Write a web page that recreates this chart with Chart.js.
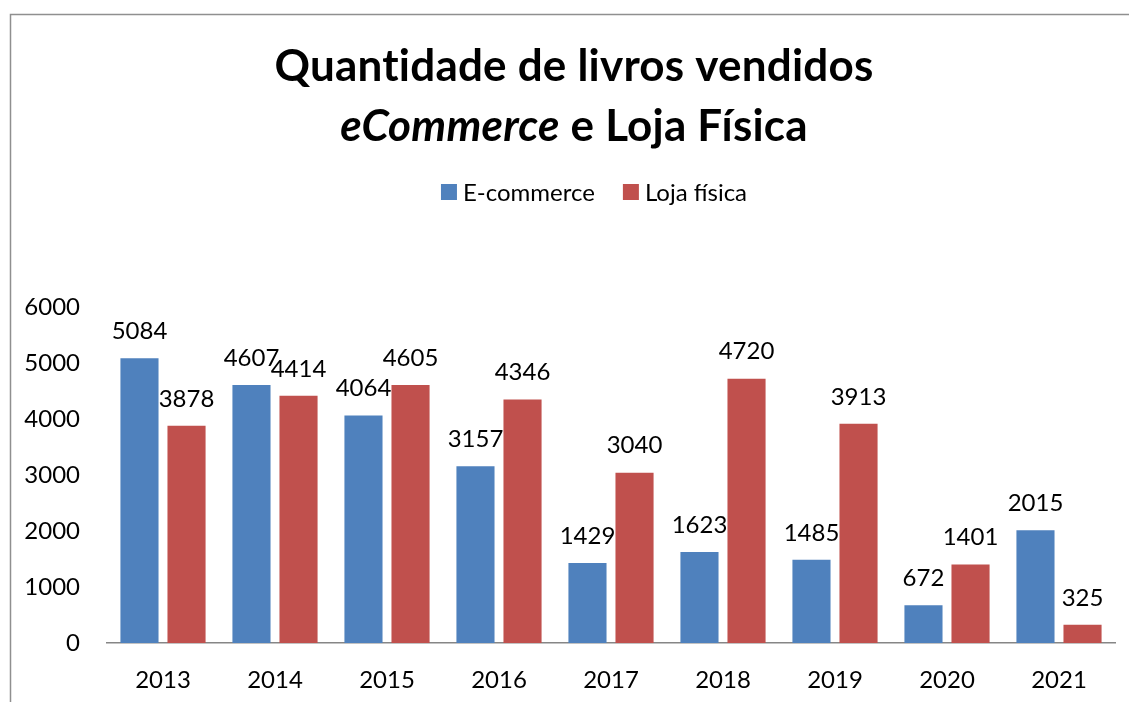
<!DOCTYPE html>
<html>
<head>
<meta charset="utf-8">
<script src="https://cdn.jsdelivr.net/npm/chart.js@4/dist/chart.umd.min.js"></script>
<style>
  html, body { margin: 0; padding: 0; background: #ffffff; }
  #wrap { width: 1129px; height: 702px; position: relative; }
</style>
</head>
<body>
<div id="wrap"><canvas id="c" width="1129" height="702"></canvas></div>
<script>
const categories = ['2013', '2014', '2015', '2016', '2017', '2018', '2019', '2020', '2021'];
const ecommerceValues = [5084, 4607, 4064, 3157, 1429, 1623, 1485, 672, 2015];
const lojaFisicaValues = [3878, 4414, 4605, 4346, 3040, 4720, 3913, 1401, 325];
const seriesNames = ['E-commerce', 'Loja física'];
const yTicks = [0, 1000, 2000, 3000, 4000, 5000, 6000];
const titleLine1 = 'Quantidade de livros vendidos';
const titleLine2Italic = 'eCommerce';
const titleLine2Rest = ' e Loja Física';

const FONT = 'Lato, "Open Sans", sans-serif';

const framePlugin = {
  id: 'frame',
  beforeDraw(chart) {
    const ctx = chart.ctx;
    ctx.save();
    ctx.fillStyle = '#ffffff';
    ctx.fillRect(0, 0, chart.width, chart.height);
    ctx.strokeStyle = '#8f8f8f';
    ctx.lineWidth = 1.5;
    ctx.beginPath();
    ctx.moveTo(10.5, chart.height);
    ctx.lineTo(10.5, 14.5);
    ctx.lineTo(chart.width, 14.5);
    ctx.stroke();
    ctx.restore();
  }
};

const titlePlugin = {
  id: 'mixedTitle',
  afterDraw(chart) {
    const ctx = chart.ctx;
    const cx = 574;
    ctx.save();
    if ('letterSpacing' in ctx) ctx.letterSpacing = '0.2px';
    ctx.fillStyle = '#000000';
    ctx.textBaseline = 'middle';
    ctx.font = 'bold 100px ' + FONT;
    const w100 = ctx.measureText(titleLine1).width;
    const size = Math.round(100 * 595 / w100 * 10) / 10;
    const boldFont = 'bold ' + size + 'px ' + FONT;
    const italicFont = 'italic bold ' + size + 'px ' + FONT;
    ctx.font = boldFont;
    ctx.textAlign = 'center';
    ctx.fillText(titleLine1, cx, 67);
    ctx.font = italicFont;
    const wi = ctx.measureText(titleLine2Italic).width;
    ctx.font = boldFont;
    const wr = ctx.measureText(titleLine2Rest).width;
    let x = cx - (wi + wr) / 2;
    ctx.textAlign = 'left';
    ctx.font = italicFont;
    ctx.fillText(titleLine2Italic, x, 127);
    ctx.font = boldFont;
    ctx.fillText(titleLine2Rest, x + wi, 127);
    ctx.restore();
  }
};

const legendPlugin = {
  id: 'customLegend',
  afterDraw(chart) {
    const ctx = chart.ctx;
    ctx.save();
    ctx.font = '24px ' + FONT;
    ctx.textBaseline = 'middle';
    ctx.textAlign = 'left';
    const box = 16, gapText = 6, gapItem = 28;
    const items = chart.data.datasets.map(ds => ({ label: ds.label, color: ds.backgroundColor }));
    const widths = items.map(it => box + gapText + ctx.measureText(it.label).width);
    const total = widths.reduce((a, b) => a + b, 0) + gapItem * (items.length - 1);
    let x = 594 - total / 2;
    const y = 192;
    items.forEach((it, i) => {
      ctx.fillStyle = it.color;
      ctx.fillRect(x, y - box / 2, box, box);
      ctx.fillStyle = '#000000';
      ctx.fillText(it.label, x + box + gapText, y + 1);
      x += widths[i] + gapItem;
    });
    ctx.restore();
  }
};

const valueLabelPlugin = {
  id: 'valueLabels',
  afterDatasetsDraw(chart) {
    const ctx = chart.ctx;
    ctx.save();
    ctx.font = '24px ' + FONT;
    ctx.fillStyle = '#000000';
    ctx.textAlign = 'center';
    ctx.textBaseline = 'middle';
    chart.data.datasets.forEach((ds, di) => {
      const meta = chart.getDatasetMeta(di);
      meta.data.forEach((el, i) => {
        ctx.fillText(String(ds.data[i]), el.x, el.y - 27);
      });
    });
    ctx.restore();
  }
};

new Chart(document.getElementById('c'), {
  type: 'bar',
  data: {
    labels: categories,
    datasets: [
      { label: seriesNames[0], data: ecommerceValues, backgroundColor: '#4F81BD',
        categoryPercentage: 0.84, barPercentage: 0.81 },
      { label: seriesNames[1], data: lojaFisicaValues, backgroundColor: '#C0504D',
        categoryPercentage: 0.84, barPercentage: 0.81 }
    ]
  },
  options: {
    responsive: false,
    animation: false,
    devicePixelRatio: 1,
    layout: { padding: { top: 307, right: 14, bottom: 0, left: 0 } },
    plugins: {
      legend: { display: false },
      title: { display: false },
      tooltip: { enabled: false }
    },
    scales: {
      x: {
        grid: { display: true, drawOnChartArea: false, drawTicks: false },
        border: { display: true, color: '#868686', width: 1.5 },
        ticks: { color: '#000000', font: { family: FONT, size: 24 }, padding: 23, maxRotation: 0 },
        afterFit(scale) { scale.height = 59; }
      },
      y: {
        min: 0, max: 6000,
        grid: { display: false, drawTicks: false },
        border: { display: false },
        afterBuildTicks(scale) { scale.ticks = yTicks.map(v => ({ value: v })); },
        ticks: { color: '#000000', font: { family: FONT, size: 24 }, padding: 27,
                 callback: (v) => String(v) },
        afterFit(scale) { scale.width = 107; }
      }
    }
  },
  plugins: [framePlugin, titlePlugin, legendPlugin, valueLabelPlugin]
});
</script>
</body>
</html>
